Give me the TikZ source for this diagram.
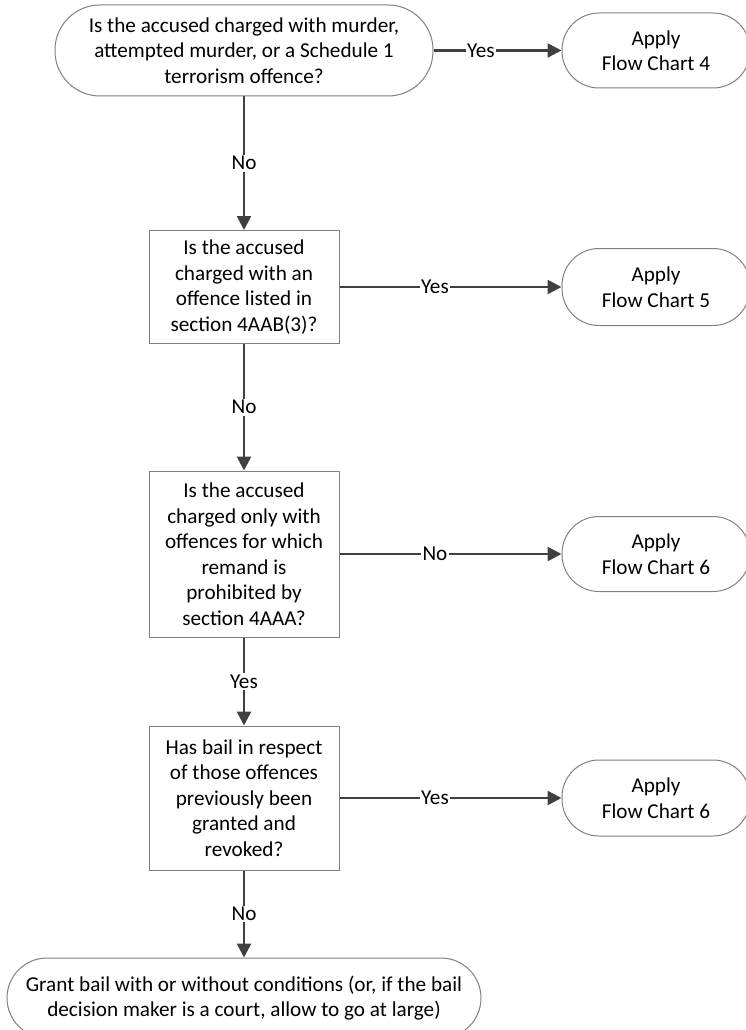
\documentclass[tikz,border=0pt]{standalone}
\usepackage{fontspec}
\setmainfont{Carlito}
\usetikzlibrary{arrows.meta}
\begin{document}
\begin{tikzpicture}[x=1pt,y=-1pt,>={Triangle[length=14pt,width=14pt]},
    font=\fontsize{21.2}{25.5}\selectfont,
    term/.style={draw=black!50,line width=1pt,rounded corners=#1,align=center,inner sep=0pt},
    qbox/.style={draw=black!50,line width=1pt,align=center,minimum width=190,minimum height=#1,inner sep=0pt},
    flow/.style={->,line width=2.6pt,draw=black!75},
    lbl/.style={fill=white,inner sep=1.5pt}]
    \useasboundingbox (0,0) rectangle (746,1030);
    \node[term=45,minimum width=378,minimum height=91](q1) at (244,50.5)
        {Is the accused charged with murder,\\attempted murder, or a Schedule 1\\terrorism offence?};
    \node[term=37,minimum width=188,minimum height=75](fc4) at (656,50.5){Apply\\Flow Chart 4};
    \node[qbox=113](q2) at (244,287)
        {Is the accused\\charged with an\\offence listed in\\section 4AAB(3)?};
    \node[term=37,minimum width=188,minimum height=77](fc5) at (656,287){Apply\\Flow Chart 5};
    \node[qbox=166](q3) at (244,554)
        {Is the accused\\charged only with\\offences for which\\remand is\\prohibited by\\section 4AAA?};
    \node[term=37,minimum width=188,minimum height=75](fc6a) at (656,554){Apply\\Flow Chart 6};
    \node[qbox=144](q4) at (244,798)
        {Has bail in respect\\of those offences\\previously been\\granted and\\revoked?};
    \node[term=37,minimum width=188,minimum height=76](fc6b) at (656,798){Apply\\Flow Chart 6};
    \node[term=40,minimum width=474,minimum height=80](bail) at (244,998)
        {Grant bail with or without conditions (or, if the bail\\decision maker is a court, allow to go at large)};
    % yes/no branches
    \draw[flow](q1)--node[lbl,pos=.37]{Yes}(fc4);
    \draw[flow](q1)--node[lbl]{No}(q2);
    \draw[flow](q2)--node[lbl,pos=.43]{Yes}(fc5);
    \draw[flow](q2)--node[lbl]{No}(q3);
    \draw[flow](q3)--node[lbl,pos=.43]{No}(fc6a);
    \draw[flow](q3)--node[lbl]{Yes}(q4);
    \draw[flow](q4)--node[lbl,pos=.43]{Yes}(fc6b);
    \draw[flow](q4)--node[lbl]{No}(bail);
\end{tikzpicture}
\end{document}
